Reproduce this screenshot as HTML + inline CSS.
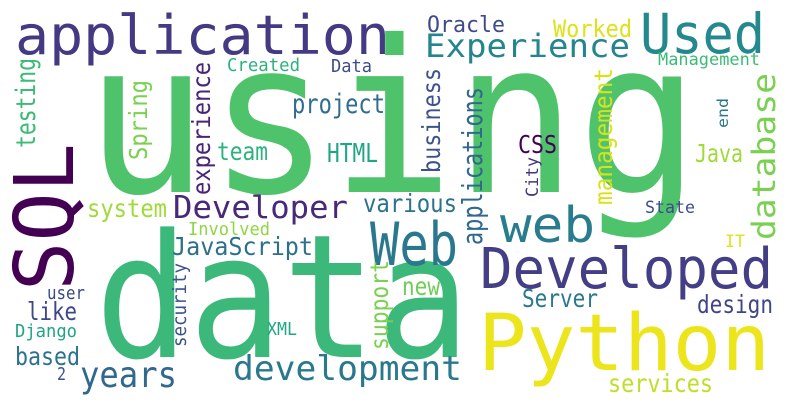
<!DOCTYPE html>
<html><head><meta charset="utf-8"><style>
html,body{margin:0;padding:0;background:#fff;}
svg{display:block;}
text{font-family:"DejaVu Sans Mono","Liberation Mono",monospace;}
</style></head><body>
<svg id="wc" width="790" height="405" viewBox="0 0 790 405">
<rect width="790" height="405" fill="#fff"/>
</svg>
<script>
const words = ["using","data","application","Python","Developed","Used","Web","web","SQL","Experience","Developer","development","years","database","applications","project","HTML","Oracle","Worked","Management","CSS","Java","management","business","experience","Spring","testing","team","Created","Data","various","system","JavaScript","Involved","security","support","user","like","Django","based","2","XML","State","IT","new","Server","design","services","City","end"];
const sizes = [212,172,54,78,56,55,60,49,82,32,31,34,36,32,28,27,26,22,24,17,25,25,25,25,25,25,27,25,18,18,25,25,25,18,19,25,18,25,18,25,18,18,17,17,25,25,25,25,17,15];
const xs = [85,95,15,478,480,640,370,500,73,425,173,233,80,775,482,292,327,427,553,658,518,695,612,440,210,147,35,217,227,331,363,87,172,188,186,388,47,27,15,15,57,267,645,725,402,522,697,608,538,728];
const ys = [192,357,54,370,288,53,265,242,291,57,218,380,387,240,245,113,162,32,37,65,153,162,205,173,195,160,148,160,71,72,212,217,255,235,347,350,299,320,337,365,380,335,213,247,295,307,313,392,197,128];
const lens = [615,375,375,292,293,125,88,95,148,205,175,229,97,167,158,93,51,78,79,102,39,48,137,105,133,80,90,51,73,41,94,80,141,82,84,90,38,50,62,65,9,30,50,20,38,76,76,105,40,30];
const colors = ["#4ec36b","#3bb87a","#443983","#ece51b","#433e85","#23898e","#2a788e","#287c8e","#440154","#25858e","#482878","#2a788e","#31688e","#7ad151","#31688e","#2f6c8e","#21a685","#3e4a89","#dde318","#3bbb75","#440154","#a0da39","#d8e219","#3b528b","#482576","#7ad151","#3bbb75","#2db27d","#2db27d","#3e4c8a","#2c728e","#a0da39","#2d708e","#8fd744","#3b528b","#7ad151","#3e4989","#3f4788","#20a386","#2c728e","#3b528b","#21a685","#3e4a89","#dde318","#6ece58","#2a788e","#414487","#bddf26","#46337e","#2a788e"];
const rot = [0,0,0,0,0,0,0,0,1,0,0,0,0,1,1,0,0,0,0,0,0,0,1,1,1,1,1,0,0,0,0,0,0,0,1,1,0,0,0,0,0,0,0,0,0,0,0,0,1,1];
const svg = document.getElementById('wc');
const NS = "http://www.w3.org/2000/svg";
for (let i = 0; i < words.length; i++) {
  const t = document.createElementNS(NS, 'text');
  
  
  t.setAttribute('font-size', sizes[i]);
  t.setAttribute('fill', colors[i]);
  t.setAttribute('textLength', lens[i]);
  t.setAttribute('lengthAdjust', 'spacingAndGlyphs');
  if (rot[i]) {
    t.setAttribute('transform', 'translate(' + xs[i] + ',' + ys[i] + ') rotate(-90)');
    t.setAttribute('x', 0); t.setAttribute('y', 0);
  } else {
    t.setAttribute('x', xs[i]); t.setAttribute('y', ys[i]);
  }
  t.textContent = words[i];
  svg.appendChild(t);
}
</script>
</body></html>
